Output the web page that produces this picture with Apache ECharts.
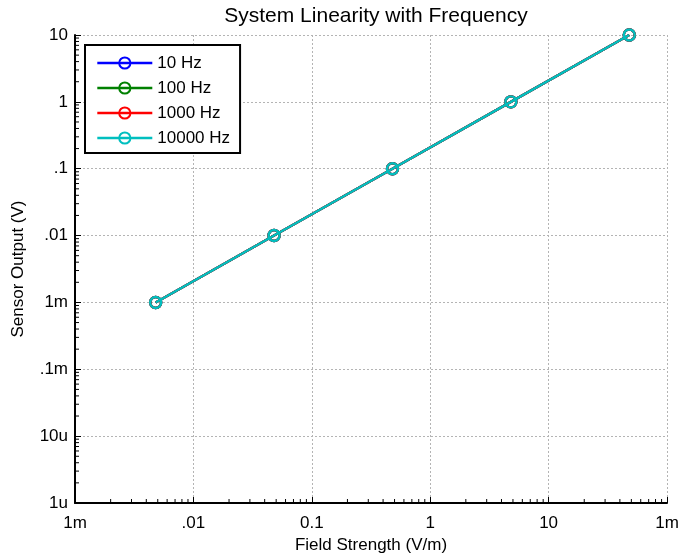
<!DOCTYPE html>
<html>
<head>
<meta charset="utf-8">
<script src="https://cdn.jsdelivr.net/npm/echarts@6/dist/echarts.min.js"></script>
<style>html,body{margin:0;padding:0;background:#fff}#c{width:680px;height:556px}</style>
</head>
<body>
<div id="c"></div>
<script>
const fieldStrength = [0.0048, 0.048, 0.48, 4.8, 48];
const out10 = [0.001, 0.01, 0.1, 1, 10];
const out100 = [0.001, 0.01, 0.1, 1, 10];
const out1000 = [0.001, 0.01, 0.1, 1, 10];
const out10000 = [0.001, 0.01, 0.1, 1, 10];
const seriesNames = ['10 Hz', '100 Hz', '1000 Hz', '10000 Hz'];
const xTickValues = [0.001, 0.01, 0.1, 1, 10, 100];
const xTickLabels = ['1m', '.01', '0.1', '1', '10', '1m'];
const yTickValues = [1e-6, 1e-5, 1e-4, 1e-3, 0.01, 0.1, 1, 10];
const yTickLabels = ['1u', '10u', '.1m', '1m', '.01', '.1', '1', '10'];

const colors = ['#0000ff', '#008000', '#ff0000', '#00bfbf'];
const font = 'Liberation Sans, Arial, sans-serif';
const X_MIN = 0.001, X_MAX = 100, Y_MIN = 1e-6, Y_MAX = 10;
const FS = 17;

function lookup(vals, labels, v) {
  for (let i = 0; i < vals.length; i++) {
    if (Math.abs(Math.log10(v) - Math.log10(vals[i])) < 1e-6) return labels[i];
  }
  return '';
}

function minorVals(lo, hi) {
  const r = [];
  for (let e = Math.round(Math.log10(lo)); e < Math.round(Math.log10(hi)); e++) {
    for (let m = 2; m <= 9; m++) r.push([m * Math.pow(10, e)]);
  }
  return r;
}

const chart = echarts.init(document.getElementById('c'), null, {renderer: 'canvas'});
const dataSets = [out10, out100, out1000, out10000];
const lineSeries = dataSets.map((d, i) => ({
  name: seriesNames[i],
  type: 'line',
  data: fieldStrength.map((x, j) => [x, d[j]]),
  symbol: 'circle',
  symbolSize: 11,
  showSymbol: true,
  color: colors[i],
  lineStyle: {width: 2.4, color: colors[i]},
  itemStyle: {color: 'rgba(255,255,255,0)', borderColor: colors[i], borderWidth: 2.4},
  emphasis: {disabled: true},
  z: 3 + i
}));

const xMinor = {
  type: 'custom',
  silent: true,
  z: 10,
  clip: false,
  data: minorVals(X_MIN, X_MAX),
  renderItem: function (params, api) {
    const p = api.coord([api.value(0), Y_MIN]);
    return {type: 'line', shape: {x1: p[0], y1: p[1], x2: p[0], y2: p[1] - 4}, style: {stroke: '#000', lineWidth: 1}};
  },
  encode: {x: 0}
};
const yMinor = {
  type: 'custom',
  silent: true,
  z: 10,
  clip: false,
  data: minorVals(Y_MIN, Y_MAX).map(v => [X_MIN, v[0]]),
  renderItem: function (params, api) {
    const p = api.coord([X_MIN, api.value(1)]);
    return {type: 'line', shape: {x1: p[0], y1: p[1], x2: p[0] + 4, y2: p[1]}, style: {stroke: '#000', lineWidth: 1}};
  },
  encode: {x: 0, y: 1}
};

chart.setOption({
  animation: false,
  backgroundColor: '#fff',
  textStyle: {fontFamily: font, color: '#000'},
  title: {
    text: 'System Linearity with Frequency',
    left: 371, top: 1, textAlign: 'center',
    textStyle: {fontFamily: font, fontSize: 21, fontWeight: 'normal', color: '#000'}
  },
  legend: {
    data: seriesNames,
    orient: 'vertical',
    left: 85, top: 45,
    itemWidth: 55, itemHeight: 14, itemGap: 7,
    padding: [9, 10, 6, 11],
    borderColor: '#000', borderWidth: 2,
    backgroundColor: '#fff',
    lineStyle: {width: 2.6},
    textStyle: {fontFamily: font, fontSize: FS, lineHeight: 18, color: '#000'},
    selectedMode: false
  },
  grid: {left: 75, right: 13, top: 35, bottom: 53, containLabel: false, outerBoundsMode: 'none'},
  xAxis: {
    type: 'log', logBase: 10, min: X_MIN, max: X_MAX,
    name: 'Field Strength (V/m)', nameLocation: 'middle', nameGap: 33,
    nameTextStyle: {fontFamily: font, fontSize: FS, color: '#000'},
    axisLine: {show: true, onZero: false, lineStyle: {color: '#000', width: 2}},
    axisTick: {show: true, inside: true, length: 6, lineStyle: {color: '#000'}},
    axisLabel: {fontFamily: font, fontSize: FS, color: '#000', margin: 12,
      formatter: v => lookup(xTickValues, xTickLabels, v)},
    splitLine: {show: true, lineStyle: {color: '#b4b4b4', type: [2, 2], width: 1}}
  },
  yAxis: {
    type: 'log', logBase: 10, min: Y_MIN, max: Y_MAX,
    name: 'Sensor Output (V)', nameLocation: 'middle', nameGap: 48,
    nameTextStyle: {fontFamily: font, fontSize: FS, color: '#000'},
    axisLine: {show: true, onZero: false, lineStyle: {color: '#000', width: 2}},
    axisTick: {show: true, inside: true, length: 6, lineStyle: {color: '#000'}},
    axisLabel: {fontFamily: font, fontSize: FS, color: '#000', margin: 7,
      formatter: v => lookup(yTickValues, yTickLabels, v)},
    splitLine: {show: true, lineStyle: {color: '#b4b4b4', type: [2, 2], width: 1}}
  },
  series: [xMinor, yMinor].concat(lineSeries)
});
</script>
</body>
</html>
